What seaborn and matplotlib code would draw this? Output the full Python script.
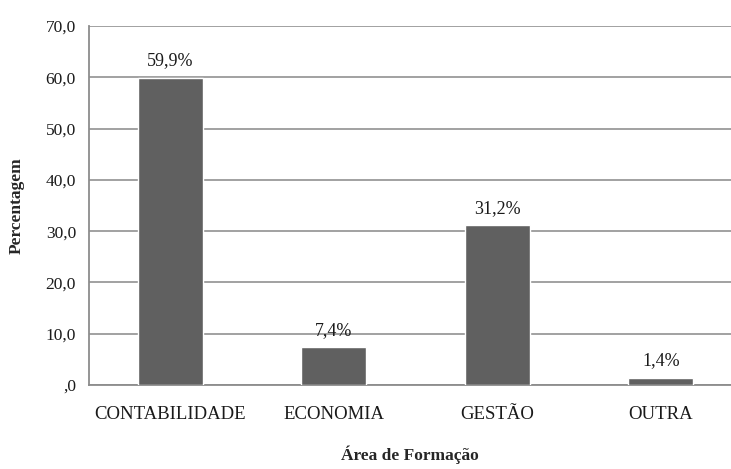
import matplotlib
matplotlib.use('Agg')
import matplotlib.pyplot as plt
import seaborn as sns
import pandas as pd

areas = ["CONTABILIDADE", "ECONOMIA", "GESTÃO", "OUTRA"]
percentages = [59.9, 7.4, 31.2, 1.4]
y_ticks = [0, 10, 20, 30, 40, 50, 60, 70]

df = pd.DataFrame({"area": areas, "pct": percentages})

sns.set_style("white")
plt.rcParams['font.family'] = ['Liberation Serif', 'DejaVu Serif']

fig = plt.figure(figsize=(7.31, 4.69), dpi=100)
ax = fig.add_axes([88.5 / 731, 84 / 469, 654 / 731, 359 / 469])

sns.barplot(data=df, x="area", y="pct", color="#606060", width=0.4,
            saturation=1, ax=ax, zorder=3)

ax.set_ylim(0, 70)
ax.set_xlim(-0.5, len(areas) - 0.5)
ax.set_yticks(y_ticks)
ax.set_yticklabels([(f"{v:.1f}".replace(".", ",") if v else ",0") for v in y_ticks],
                   fontsize=12.5, color="#1a1a1a")
ax.yaxis.grid(True, color="#9a9a9a", linewidth=1.3, zorder=0)
ax.set_axisbelow(True)

# category ticks at boundaries, labels at centres
ax.set_xticks([i - 0.5 for i in range(len(areas) + 1)], minor=False)
ax.set_xticklabels([])
ax.set_xticks(range(len(areas)), minor=True)
ax.set_xticklabels(areas, minor=True, fontsize=13.5, color="#1a1a1a")
ax.tick_params(axis="x", which="major", direction="out", length=5, width=1.3,
               color="#8c8c8c")
ax.tick_params(axis="x", which="minor", length=0, pad=15)
ax.tick_params(axis="y", direction="out", length=5, width=1.3, color="#8c8c8c",
               pad=4)

for side in ["top", "right"]:
    ax.spines[side].set_visible(False)
for side in ["left", "bottom"]:
    ax.spines[side].set_color("#8c8c8c")
    ax.spines[side].set_linewidth(1.3)

for i, v in enumerate(percentages):
    ax.annotate(f"{v:.1f}%".replace(".", ","), (i, v), xytext=(0, 6),
                textcoords="offset points", ha="center", va="bottom",
                fontsize=13, color="#1a1a1a")

ax.set_ylabel("Percentagem", fontsize=12.5, fontweight="bold")
ax.set_xlabel("Área de Formação", fontsize=12.5, fontweight="bold")
ax.xaxis.set_label_coords((410 - 88.5) / 654, -(445 - 385) / 359)
ax.yaxis.set_label_coords(-(88.5 - 25) / 654, 0.5)

fig.savefig("out.png", dpi=100)
